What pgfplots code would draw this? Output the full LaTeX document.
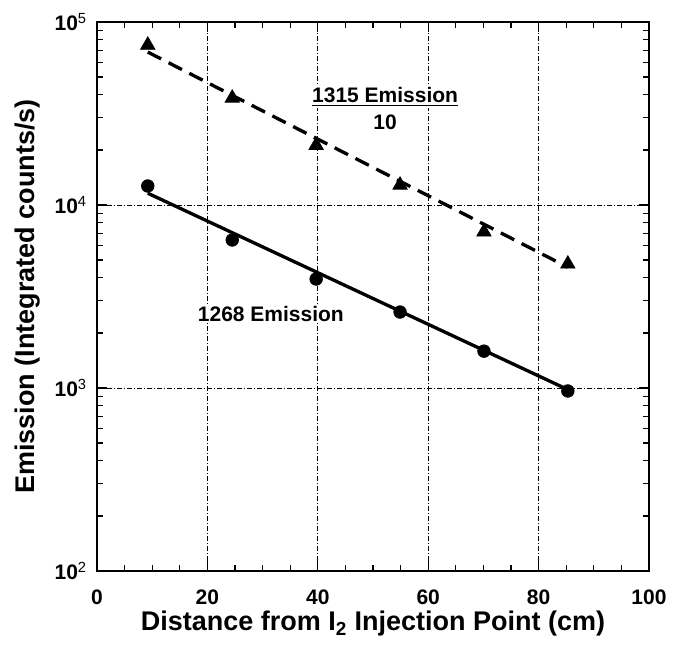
\documentclass[border=0pt]{standalone}
\usepackage{fontspec}
\setmainfont{Liberation Sans}
\usepackage{pgfplots}
\pgfplotsset{compat=1.18}

\begin{document}
\begin{tikzpicture}
  \begin{axis}[name=ax, scale only axis, width=331.2pt, height=329.4pt,
    xmin=0, xmax=100, ymin=100, ymax=100000, ymode=log,
    xtick={0,20,...,100}, minor x tick num=3,
    ytick={100,1000,10000,100000},
    yticklabels={10\textsuperscript{\mdseries 2},10\textsuperscript{\mdseries 3},
      10\textsuperscript{\mdseries 4},10\textsuperscript{\mdseries 5}},
    tick align=inside, xtick pos=both, ytick pos=both,
    major tick length=6pt, minor tick length=3.6pt,
    every tick/.style={black, line width=0.8pt},
    axis line style={line width=1.3pt},
    grid=major,
    major grid style={black, line width=0.5pt, dash pattern=on 3pt off 1pt on 1pt off 1pt},
    tick label style={font=\fontsize{12.6}{15}\selectfont\bfseries},
    xticklabel shift=8pt,
    yticklabel style={xshift=-2.5pt},
    /pgf/number format/assume math mode=true,
    xlabel={Distance from I\textsubscript{2} Injection Point (cm)},
    ylabel={Emission (Integrated counts/s)},
    label style={font=\fontsize{16.2}{19}\selectfont\bfseries},
    xlabel style={at={(axis description cs:0.5,-0.0965)}, anchor=center},
    ylabel style={at={(axis description cs:-0.125,0.5)}, anchor=center}]

    % fitted exponential decays (straight on the log axis)
    \addplot[black, line width=2pt] coordinates {(9.2,11600) (85.3,980)};
    \addplot[black, line width=2pt, dash pattern=on 9pt off 5pt] coordinates {(9.2,68500) (85.3,4570)};

    % 1268 emission
    \addplot[black, only marks, mark=*, mark size=3.8pt] coordinates {
      (9.2,12700) (24.5,6440) (39.7,3940) (54.9,2600) (70.1,1590) (85.3,963)};
    % 1315 emission / 10
    \addplot[black, only marks, mark=triangle*, mark size=5pt] coordinates {
      (9.2,74800) (24.5,38400) (39.7,21200) (54.9,12850) (70.1,7130) (85.3,4760)};

    \node[fill=white, inner sep=1pt, font=\fontsize{12.6}{15}\selectfont\bfseries]
      at (axis cs:52.2,38900) {\underline{1315 Emission}};
    \node[fill=white, inner sep=1pt, font=\fontsize{12.6}{15}\selectfont\bfseries]
      at (axis cs:52.2,28400) {10};
    \node[fill=white, inner sep=1pt, font=\fontsize{12.6}{15}\selectfont\bfseries]
      at (axis cs:31.5,2535) {1268 Emission};
  \end{axis}
  \pgfresetboundingbox
  \path ([shift={(-58.2pt,-43.8pt)}]ax.south west) rectangle ([shift={(352.2pt,342.6pt)}]ax.south west);
\end{tikzpicture}
\end{document}
